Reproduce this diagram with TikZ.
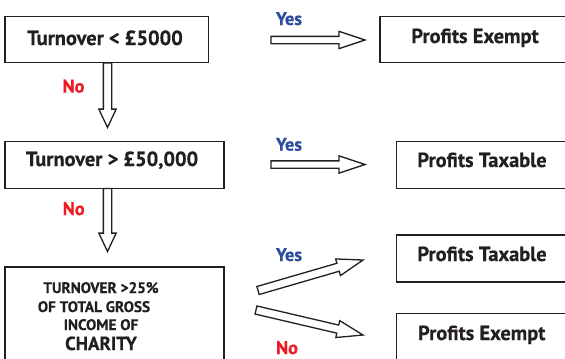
\documentclass[tikz,border=0pt]{standalone}
\usepackage{fontspec}
\setmainfont{PT Sans}[BoldFeatures={FakeBold=0.5}]
\usetikzlibrary{shapes.arrows}
\definecolor{yesblue}{HTML}{2E4C9E}
\definecolor{nored}{HTML}{ED1C24}
\definecolor{ink}{HTML}{231F20}
\begin{document}
\begin{tikzpicture}[x=1bp,y=-1bp,
  box/.style={draw=ink, line width=1.8bp, inner sep=0pt, outer sep=0pt},
  txt/.style={font=\bfseries\fontsize{20.5}{22}\selectfont, text=ink, inner sep=0pt, anchor=base},
  captxt/.style={font=\bfseries\fontsize{15.3}{18}\selectfont, text=ink, inner sep=0pt, anchor=base},
  bigcap/.style={font=\bfseries\fontsize{19}{22}\selectfont, text=ink, inner sep=0pt, anchor=base},
  yeslbl/.style={font=\bfseries\fontsize{18.5}{22}\selectfont, text=yesblue, inner sep=0pt, anchor=base},
  nolbl/.style={font=\bfseries\fontsize{18.5}{22}\selectfont, text=nored, inner sep=0pt, anchor=base},
  barrow/.style={single arrow, draw=ink, line width=1.3bp, fill=white, inner xsep=0pt,
    outer sep=0pt, anchor=tail},
  downarr/.style={barrow, rotate=-90, inner ysep=3.5bp, single arrow head extend=4.5bp, single arrow tip angle=50.4},
  sidearr/.style={barrow, inner ysep=3bp, single arrow head extend=5bp, single arrow tip angle=36.9}
]
\useasboundingbox (0,0) rectangle (565,358);
\clip (0,0) rectangle (565,358);

% boxes
\node[box, minimum width=203.5bp, minimum height=46bp] (b1) at (106.75,39.5) {};
\node[box, minimum width=219bp, minimum height=47bp] (b2) at (114.5,165) {};
\node[box, minimum width=219bp, minimum height=103bp] (b3) at (114.5,318.5) {};
\node[box, minimum width=190bp, minimum height=46bp] (r1) at (475,39.5) {};
\node[box, minimum width=173.5bp, minimum height=47bp] (r2) at (483.25,165) {};
\node[box, minimum width=173.5bp, minimum height=47bp] (r3) at (483.25,258.5) {};
\node[box, minimum width=173.5bp, minimum height=66.5bp] (r4) at (483.25,346.75) {};

% texts
\node[txt] (t1) at (105,45) {Turnover < £5000};
\node[txt] (t2) at (112,166) {Turnover > £50,000};
\node[captxt] (c1) at (101,293) {TURNOVER >25\%};
\node[captxt] (c2) at (94,312) {OF TOTAL GROSS};
\node[captxt] (c3) at (101,330) {INCOME OF};
\node[bigcap] (c4) at (101,350) {CHARITY};
\node[txt] (p1) at (475,43) {Profits Exempt};
\node[txt] (p2) at (482,167) {Profits Taxable};
\node[txt] (p3) at (482,261) {Profits Taxable};
\node[txt] (p4) at (481.7,340) {Profits Exempt};

% labels
\node[nolbl] (n1) at (73.5,92.5) {No};
\node[nolbl] (n2) at (73.7,215) {No};
\node[yeslbl] (y1) at (289,25) {Yes};
\node[yeslbl] (y2) at (289,150.7) {Yes};
\node[yeslbl] (y3) at (289,261) {Yes};
\node[nolbl] (n3) at (287,354) {No};

% block arrows
\node[downarr, minimum height=64.5bp] (a1) at (107.5,63) {};
\node[downarr, minimum height=63bp] (a2) at (107.5,188.5) {};
\node[sidearr, minimum height=94bp] (a3) at (271,40) {};
\node[sidearr, minimum height=94bp] (a4) at (271,164.5) {};
\node[sidearr, minimum height=109.3bp, rotate=16.2, inner ysep=3.5bp, single arrow head extend=4.5bp] (a5) at (258,290.5) {};
\node[sidearr, minimum height=109.9bp, rotate=-13.15, inner ysep=3.5bp, single arrow head extend=4.5bp] (a6) at (256,310) {};
\end{tikzpicture}
\end{document}
